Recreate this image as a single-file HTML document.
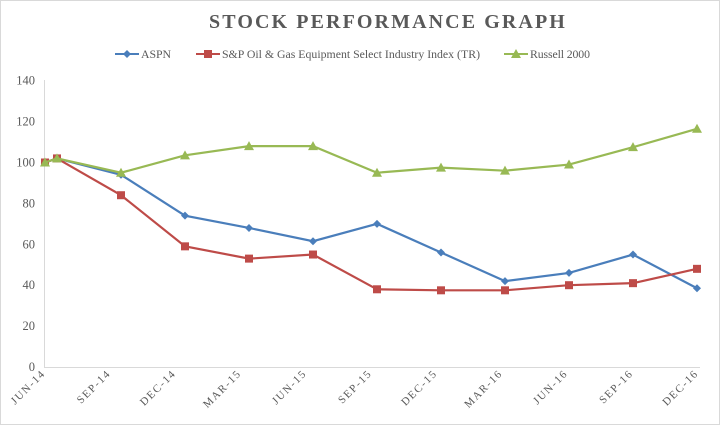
<!DOCTYPE html>
<html><head><meta charset="utf-8"><style>
body{margin:0;background:#fff}
svg{display:block;font-family:"Liberation Serif",serif}
</style></head><body>
<svg width="720" height="425">
<rect x="0.5" y="0.5" width="719" height="424" fill="#fff" stroke="#d9d9d9"/>
<text x="388" y="28" text-anchor="middle" font-size="20" font-weight="bold" letter-spacing="2.1" fill="#595959">STOCK PERFORMANCE GRAPH</text>
<g id="legend" font-size="12" fill="#595959"></g>
<g id="axes"></g>
<g id="series"></g>
</svg>
<script>
const cats=["JUN-14","SEP-14","DEC-14","MAR-15","JUN-15","SEP-15","DEC-15","MAR-16","JUN-16","SEP-16","DEC-16"];
const aspn=[100,102,94,74,68,61.5,70,56,42,46,55,38.5];
const spo=[100,102,84,59,53,55,38,37.5,37.5,40,41,48];
const rus=[100,102,95,103.5,108,108,95,97.5,96,99,107.5,116.5];
const yTicks=[0,20,40,60,80,100,120,140];
const NS="http://www.w3.org/2000/svg";
function mk(t,a,p){const e=document.createElementNS(NS,t);for(const k in a)e.setAttribute(k,a[k]);p.appendChild(e);return e;}
const y=v=>367-v*2.045;
const px=i=>i===0?45:57+(i-1)*64;
const lx=i=>46+i*65.3;
const axes=document.getElementById('axes');
const ax=mk('line',{x1:44.5,y1:80,x2:44.5,y2:367.5,stroke:'#d9d9d9'},axes);


const bx=mk('line',{x1:44,y1:367.5,x2:700,y2:367.5,stroke:'#d9d9d9'},axes);


yTicks.forEach(v=>{const t=mk('text',{x:35,y:y(v)+4,'text-anchor':'end','font-size':12.5,fill:'#595959'},axes);t.textContent=v;

});
cats.forEach((c,i)=>{const X=lx(i),Y=374;const t=mk('text',{x:X,y:Y,'text-anchor':'end','font-size':11,fill:'#595959','letter-spacing':'1.5',transform:`rotate(-45 ${X} ${Y})`},axes);t.textContent=c;

});
const S=[{d:aspn,c:'#4a7ebb',m:'diamond',n:'ASPN',lx:115},{d:spo,c:'#be4b48',m:'square',n:'S&P Oil & Gas Equipment Select Industry Index (TR)',lx:196},{d:rus,c:'#98b954',m:'triangle',n:'Russell 2000',lx:504}];
function marker(m,X,Y,c,p){let e;
if(m==='diamond')e=mk('polygon',{points:`${X},${Y-4} ${X+4},${Y} ${X},${Y+4} ${X-4},${Y}`,fill:c},p);
else if(m==='square')e=mk('rect',{x:X-4,y:Y-4,width:8,height:8,fill:c},p);
else e=mk('polygon',{points:`${X},${Y-5} ${X+5},${Y+4} ${X-5},${Y+4}`,fill:c},p);return e;}
const sg=document.getElementById('series'),lg=document.getElementById('legend');
S.forEach(s=>{const g=mk('g',{},sg);


const l=mk('polyline',{points:s.d.map((v,i)=>px(i)+','+y(v)).join(' '),fill:'none',stroke:s.c,'stroke-width':2.2},g);


s.d.forEach((v,i)=>{const m=marker(s.m,px(i),y(v),s.c,g);

});
const e=mk('g',{},lg);


mk('line',{x1:s.lx,y1:54,x2:s.lx+24,y2:54,stroke:s.c,'stroke-width':2},e);
marker(s.m,s.lx+12,54,s.c,e);
const t=mk('text',{x:s.lx+26,y:58,'font-size':11.8,fill:'#595959',textLength:s.n.length>20?258:(s.n.length>5?60:30)},e);t.textContent=s.n;});
</script>
</body></html>
